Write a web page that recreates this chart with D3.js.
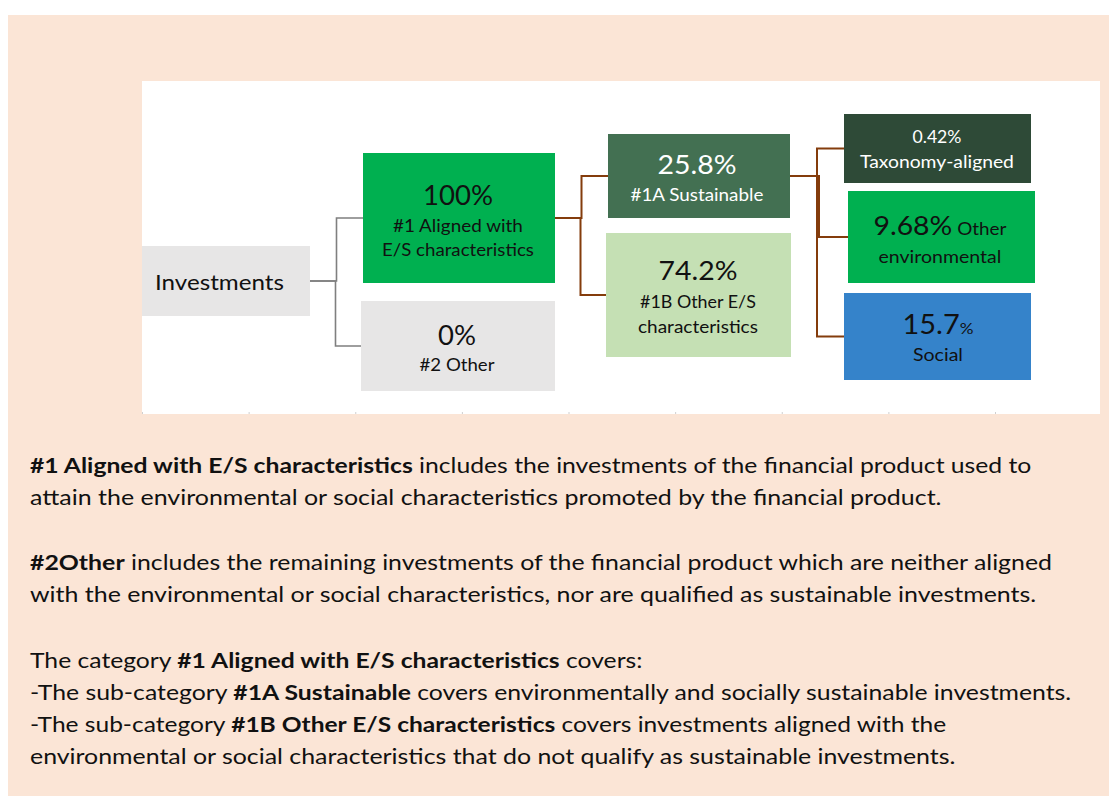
<!DOCTYPE html>
<html>
<head>
<meta charset="utf-8">
<script src="https://cdn.jsdelivr.net/npm/d3@7"></script>
<style>
  body { margin: 0; background: #ffffff; }
  text { white-space: pre; }
</style>
</head>
<body>
<div id="chart"></div>
<script>
// ---- data ----
const nodeIds    = ["inv", "aligned", "other", "sust", "otherES", "taxo", "otherEnv", "social"];
const nodeParent = [null, "inv", "inv", "aligned", "aligned", "sust", "sust", "sust"];
const nodeValues = [null, 100, 0, 25.8, 74.2, 0.42, 9.68, 15.7];
const nodeLabels = ["Investments", "#1 Aligned with|E/S characteristics", "#2 Other",
                    "#1A Sustainable", "#1B Other E/S|characteristics", "Taxonomy-aligned",
                    "Other|environmental", "Social"];

const descLines = [
  [["#1 Aligned with E/S characteristics", true], [" includes the investments of the financial product used to", false]],
  [["attain the environmental or social characteristics promoted by the financial product.", false]],
  null,
  [["#2Other", true], [" includes the remaining investments of the financial product which are neither aligned", false]],
  [["with the environmental or social characteristics, nor are qualified as sustainable investments.", false]],
  null,
  [["The category ", false], ["#1 Aligned with E/S characteristics", true], [" covers:", false]],
  [["-The sub-category ", false], ["#1A Sustainable", true], [" covers environmentally and socially sustainable investments.", false]],
  [["-The sub-category ", false], ["#1B Other E/S characteristics", true], [" covers investments aligned with the", false]],
  [["environmental or social characteristics that do not qualify as sustainable investments.", false]]
];

// ---- layout / style ----
const W = 1109, H = 796;
const font = "Lato, 'Open Sans', sans-serif";

// box geometry [x, y, w, h]
const boxes = {
  inv:      [142, 246, 168, 70],
  aligned:  [363, 153, 192, 130],
  other:    [361, 301, 194, 90],
  sust:     [608, 134, 182, 84],
  otherES:  [606, 233, 185, 124],
  taxo:     [844, 114, 187, 69],
  otherEnv: [848, 191, 187, 92],
  social:   [844, 293, 187, 87]
};
const fills = {
  inv: "#e7e6e6", aligned: "#00b050", other: "#e7e6e6", sust: "#437052",
  otherES: "#c5e0b4", taxo: "#2e4a37", otherEnv: "#00b050", social: "#3583ca"
};
const textColor = { sust: "#ffffff", taxo: "#ffffff" };
// text placement: centre x, then [baseline, width] per line
const textPos = {
  inv:      { left: 155, lines: [[290, 129]] },
  aligned:  { cx: 458, lines: [[205, 70], [232, 130], [256, 152]] },
  other:    { cx: 457, lines: [[345, 38], [371, 75]] },
  sust:     { cx: 697, lines: [[174, 79], [201, 133]] },
  otherES:  { cx: 698, lines: [[280, 79], [308, 116], [333, 120]] },
  taxo:     { cx: 937, lines: [[143, 49], [168, 154]] },
  otherEnv: { cx: 940, lines: [[235, 133], [263, 123]] },
  social:   { cx: 938, lines: [[334, 71], [361, 50]] }
};
const valueSize = { taxo: 17 };
const pctSize = { social: 16 };
const inlineLabel = { otherEnv: true };
const linkColor = { inv: "#7f7f7f", aligned: "#843c0c", sust: "#843c0c" };

const descBase = [473, 505, null, 570, 602, null, 668, 700, 732, 764];
const descWidth = [1002, 912, null, 1022, 1007, null, 613, 1042, 917, 926];

const svg = d3.select("#chart").append("svg")
  .attr("width", W).attr("height", H)
  .style("font-family", font);

svg.append("rect").attr("x", 8).attr("y", 15).attr("width", W - 8).attr("height", H - 15)
  .attr("fill", "#fbe5d6");
svg.append("rect").attr("x", 142).attr("y", 81).attr("width", 958).attr("height", 333)
  .attr("fill", "#ffffff");

// faint tick marks along the bottom of the white panel
const tickScale = d3.scaleLinear().domain([0, 8]).range([142, 995]);
const ax = svg.append("g").attr("transform", "translate(0,412)")
  .call(d3.axisBottom(tickScale).ticks(8).tickSize(2).tickFormat(""));
ax.select(".domain").remove();
ax.selectAll("line").attr("stroke", "#cfcfcf");

const nodes = nodeIds.map((id, i) => ({
  id, parent: nodeParent[i], value: nodeValues[i], label: nodeLabels[i],
  x: boxes[id][0], y: boxes[id][1], w: boxes[id][2], h: boxes[id][3]
}));
const byId = {};
nodes.forEach(n => byId[n.id] = n);

// connectors (elbows)
const links = nodes.filter(n => n.parent).map(n => ({ s: byId[n.parent], t: n }));
svg.append("g").selectAll("path").data(links).enter().append("path")
  .attr("fill", "none")
  .attr("stroke", d => linkColor[d.s.id])
  .attr("stroke-width", d => d.s.id === "inv" ? 1.6 : 2)
  .attr("d", d => {
    const sx = d.s.x + d.s.w, sy = d.s.y + d.s.h / 2;
    const tx = d.t.x, ty = d.t.y + d.t.h / 2;
    const mx = (sx + tx) / 2;
    return `M${sx},${sy}H${mx}V${ty}H${tx}`;
  });

// boxes
svg.append("g").selectAll("rect").data(nodes).enter().append("rect")
  .attr("x", d => d.x).attr("y", d => d.y)
  .attr("width", d => d.w).attr("height", d => d.h)
  .attr("fill", d => fills[d.id]);

// fit a text element horizontally to a target width
function placeFit(g, x, y, target) {
  const t = g.select("text");
  const w = t.node().getComputedTextLength();
  g.attr("transform", `translate(${x},${y}) scale(${target / w},1)`);
}

nodes.forEach(n => {
  const pos = textPos[n.id];
  const col = textColor[n.id] || "#111111";
  const lines = [];
  const labParts = n.label.split("|");
  if (n.value !== null) {
    const v = String(n.value);
    const first = [];
    if (pctSize[n.id]) {
      first.push([v, 27], ["%", pctSize[n.id]]);
    } else {
      first.push([v + "%", valueSize[n.id] || 27]);
    }
    if (inlineLabel[n.id]) first.push([" " + labParts.shift(), 18]);
    lines.push(first);
    labParts.forEach(p => lines.push([[p, 18]]));
  } else {
    lines.push([[n.label, 22]]);
  }
  lines.forEach((segs, i) => {
    const [base, width] = pos.lines[i];
    const g = svg.append("g");
    const t = g.append("text").attr("x", 0).attr("y", 0).attr("fill", col);
    segs.forEach(s => t.append("tspan").attr("font-size", s[1]).text(s[0]));
    const x = pos.left !== undefined ? pos.left : pos.cx - width / 2;
    placeFit(g, x, base, width);
  });
});

// description text
descLines.forEach((segs, i) => {
  if (!segs) return;
  const g = svg.append("g");
  const t = g.append("text").attr("x", 0).attr("y", 0)
    .attr("font-size", 21).attr("fill", "#111111");
  segs.forEach(s => t.append("tspan").attr("font-weight", s[1] ? "bold" : "normal").text(s[0]));
  placeFit(g, 30, descBase[i], descWidth[i]);
});
</script>
</body>
</html>
